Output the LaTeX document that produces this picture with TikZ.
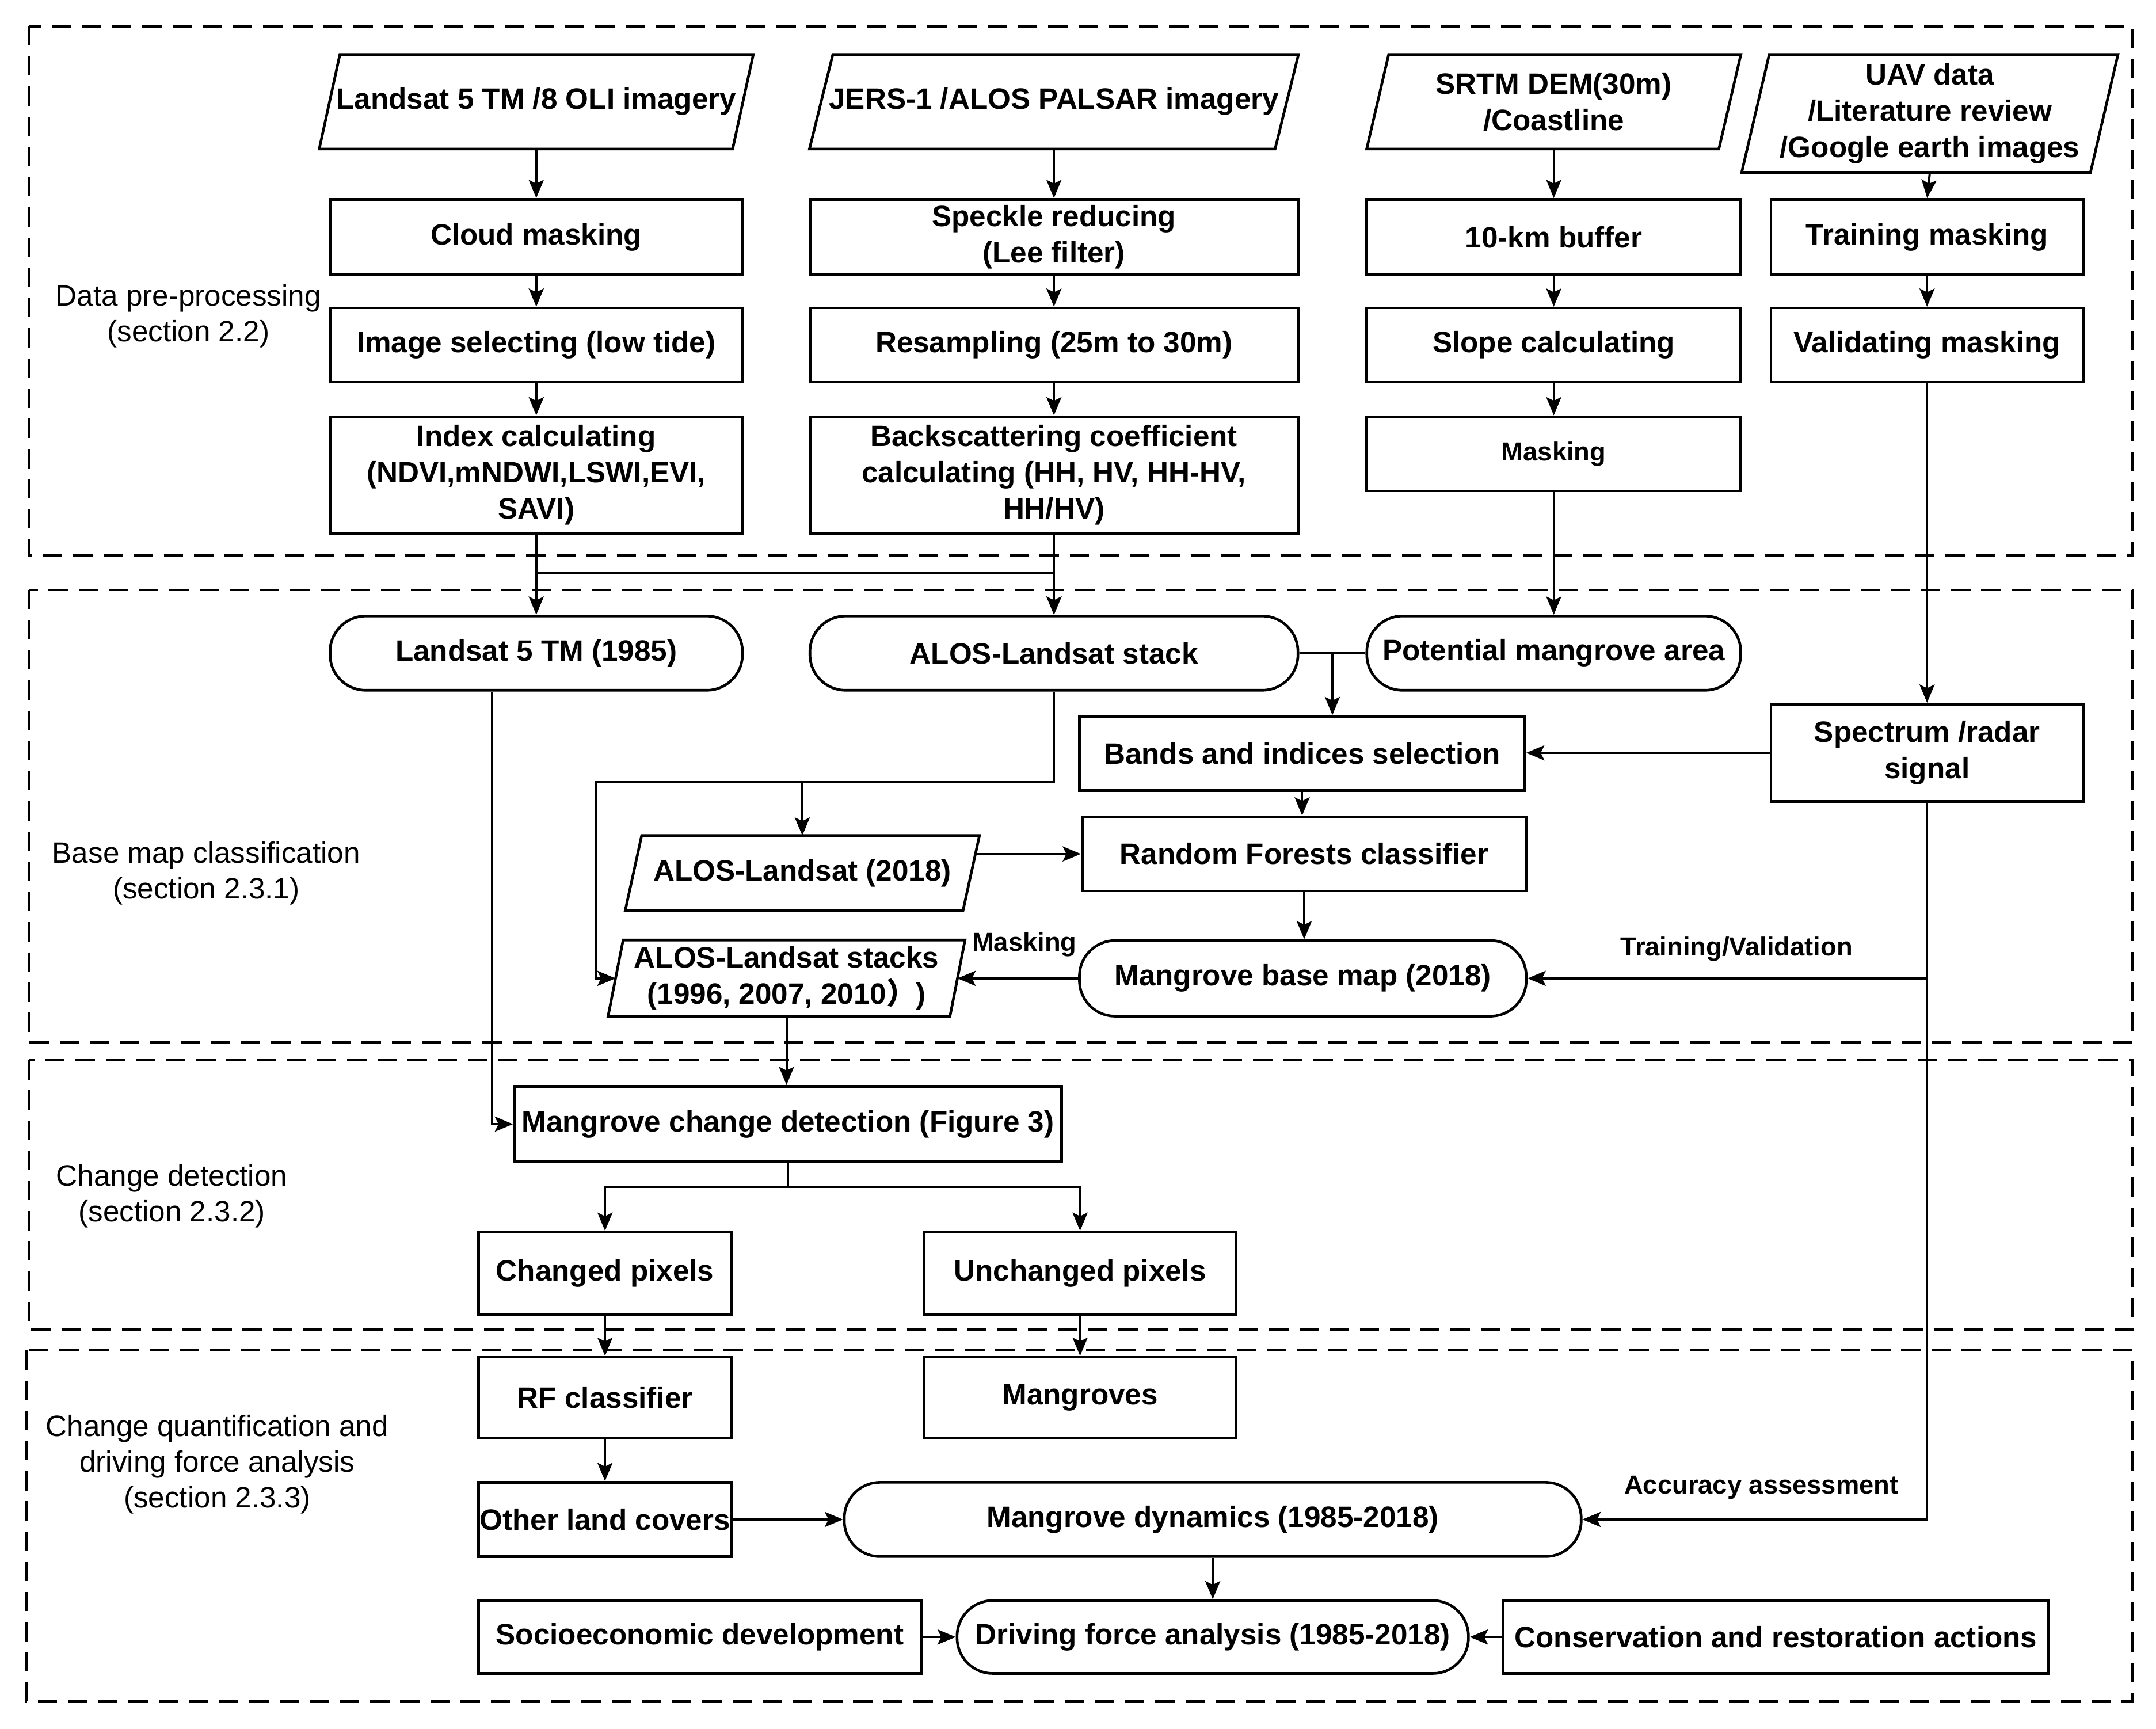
\documentclass[tikz,border=0pt]{standalone}
\usepackage{fontspec}
\setmainfont{Liberation Sans}
\newfontfamily\cjk{Noto Sans CJK SC}
\usetikzlibrary{arrows.meta,calc}
\newcommand\drawpara[2]{\draw[boxline] ([xshift=#2]#1.north west) -- ([xshift=#2]#1.north east) -- ([xshift=-#2]#1.south east) -- ([xshift=-#2]#1.south west) -- cycle;}
\begin{document}
\begin{tikzpicture}[x=0.02cm,y=-0.02cm,
  every node/.style={font=\fontsize{12.2}{15}\selectfont\bfseries, align=center, inner sep=0pt},
  boxline/.style={line width=1.1pt},
  rbox/.style={draw, boxline},
  stad/.style={draw, boxline, rounded corners=0.52cm},
  pnode/.style={draw=none},
  arr/.style={-{Stealth[length=7.5pt,width=6.2pt,inset=1.5pt]}, line width=0.95pt},
  plain/.style={line width=0.95pt},
  lab/.style={font=\fontsize{10.8}{13}\selectfont\bfseries},
  seclab/.style={font=\fontsize{12.2}{14.8}\selectfont},
  secbox/.style={line width=1.1pt, dash pattern=on 8pt off 4.5pt}
]
\fill[white] (0,0) rectangle (1568,1257);
\useasboundingbox (0,0) rectangle (1568,1257);

% section frames
\draw[secbox] (21,19) rectangle (1551,404);
\draw[secbox] (21,429) rectangle (1551,758);
\draw[secbox] (21,771) rectangle (1551,967);
\draw[secbox] (19,982) rectangle (1551,1237);

\node[seclab] (s1) at (137,230) {Data pre-processing\\(section 2.2)};
\node[seclab] (s2) at (150,635) {Base map classification\\(section 2.3.1)};
\node[seclab] (s3) at (125,870) {Change detection\\(section 2.3.2)};
\node[seclab] (s4) at (158,1065) {Change quantification and\\driving force analysis\\(section 2.3.3)};

% row 1 inputs
\node[pnode, minimum width=6cm, minimum height=1.36cm] (L1) at (390,74) {Landsat 5 TM /8 OLI imagery};
\node[pnode, minimum width=6.76cm, minimum height=1.36cm] (J1) at (766.5,74) {JERS-1 /ALOS PALSAR imagery};
\node[pnode, minimum width=5.11cm, minimum height=1.36cm] (S1) at (1130,74) {SRTM DEM(30m)\\/Coastline};
\node[pnode, minimum width=5.06cm, minimum height=1.7cm] (U1) at (1403.5,82.5) {UAV data\\/Literature review\\/Google earth images};
\drawpara{L1}{0.15cm}
\drawpara{J1}{0.17cm}
\drawpara{S1}{0.16cm}
\drawpara{U1}{0.2cm}

% row 2
\node[rbox, minimum width=6cm, minimum height=1.1cm] (cloud) at (390,172.5) {Cloud masking};
\node[rbox, minimum width=7.1cm, minimum height=1.1cm] (speck) at (766.5,172.5) {Speckle reducing\\(Lee filter)};
\node[rbox, minimum width=5.44cm, minimum height=1.1cm] (buf) at (1130,172.5) {10-km buffer};
\node[rbox, minimum width=4.54cm, minimum height=1.1cm] (train) at (1401.5,172.5) {Training masking};
% row 3
\node[rbox, minimum width=6cm, minimum height=1.08cm] (imgsel) at (390,251) {Image selecting (low tide)};
\node[rbox, minimum width=7.1cm, minimum height=1.08cm] (resamp) at (766.5,251) {Resampling (25m to 30m)};
\node[rbox, minimum width=5.44cm, minimum height=1.08cm] (slope) at (1130,251) {Slope calculating};
\node[rbox, minimum width=4.54cm, minimum height=1.08cm] (valid) at (1401.5,251) {Validating masking};
% row 4
\node[rbox, minimum width=6cm, minimum height=1.7cm] (index) at (390,345.5) {Index calculating\\(NDVI,mNDWI,LSWI,EVI,\\SAVI)};
\node[rbox, minimum width=7.1cm, minimum height=1.7cm] (backsc) at (766.5,345.5) {Backscattering coefficient\\calculating (HH, HV, HH-HV,\\HH/HV)};
\node[rbox, lab, minimum width=5.44cm, minimum height=1.08cm] (mask) at (1130,330) {Masking};

% section 2
\node[stad, minimum width=6cm, minimum height=1.08cm] (l5) at (390,475) {Landsat 5 TM (1985)};
\node[stad, minimum width=7.1cm, minimum height=1.08cm] (stack) at (766.5,475) {ALOS-Landsat stack};
\node[stad, minimum width=5.44cm, minimum height=1.08cm] (pot) at (1130,475) {Potential mangrove area};
\node[rbox, minimum width=6.48cm, minimum height=1.08cm] (bands) at (947,548) {Bands and indices selection};
\node[rbox, minimum width=4.54cm, minimum height=1.42cm] (spec) at (1401.5,547.5) {Spectrum /radar\\signal};
\node[rbox, minimum width=6.46cm, minimum height=1.08cm] (rf) at (948.5,621) {Random Forests classifier};
\node[pnode, minimum width=4.9cm, minimum height=1.08cm] (a18) at (583.5,635) {ALOS-Landsat (2018)};
\drawpara{a18}{0.12cm}
\node[pnode, minimum width=4.96cm, minimum height=1.1cm] (stacks) at (572,711.5) {ALOS-Landsat stacks\\(1996, 2007, 2010{\cjk ）})};
\drawpara{stacks}{0.11cm}
\node[stad, minimum width=6.5cm, minimum height=1.1cm] (base) at (947.5,711.5) {Mangrove base map (2018)};

% section 3
\node[rbox, minimum width=7.96cm, minimum height=1.1cm] (mcd) at (573,817.5) {Mangrove change detection (Figure 3)};
\node[rbox, minimum width=3.68cm, minimum height=1.2cm] (chg) at (440,926) {Changed pixels};
\node[rbox, minimum width=4.54cm, minimum height=1.2cm] (unchg) at (785.5,926) {Unchanged pixels};

% section 4
\node[rbox, minimum width=3.68cm, minimum height=1.18cm] (rfc) at (440,1016.5) {RF classifier};
\node[rbox, minimum width=4.54cm, minimum height=1.18cm] (mang) at (785.5,1016.5) {Mangroves};
\node[rbox, minimum width=3.68cm, minimum height=1.08cm] (other) at (440,1105) {Other land covers};
\node[stad, minimum width=10.72cm, minimum height=1.08cm] (md) at (882,1105) {Mangrove dynamics (1985-2018)};
\node[rbox, minimum width=6.44cm, minimum height=1.06cm] (socio) at (509,1190.5) {Socioeconomic development};
\node[stad, minimum width=7.44cm, minimum height=1.06cm] (df) at (882,1190.5) {Driving force analysis (1985-2018)};
\node[rbox, minimum width=7.94cm, minimum height=1.06cm] (cons) at (1291.5,1190.5) {Conservation and restoration actions};

% connectors section 1
\draw[arr] (L1.south) -- (cloud.north);
\draw[arr] (cloud.south) -- (imgsel.north);
\draw[arr] (imgsel.south) -- (index.north);
\draw[arr] (J1.south) -- (speck.north);
\draw[arr] (speck.south) -- (resamp.north);
\draw[arr] (resamp.south) -- (backsc.north);
\draw[arr] (S1.south) -- (buf.north);
\draw[arr] (buf.south) -- (slope.north);
\draw[arr] (slope.south) -- (mask.north);
\draw[arr] (U1.south) -- (train.north);
\draw[arr] (train.south) -- (valid.north);

% into section 2
\coordinate (jn) at ($(index.south)+(0,28)$);
\draw[arr] (index.south) -- (l5.north);
\draw[arr] (index.south) -- (jn) -| (stack.north);
\draw[arr] (backsc.south) -- (stack.north);
\draw[arr] (mask.south) -- (pot.north);
\draw[arr] (valid.south) -- (spec.north);

\draw[plain] (stack.east) -- (pot.west);
\coordinate (mid) at ($(stack.east)!0.5!(pot.west)$);
\draw[arr] (mid) -- (mid |- bands.north);
\draw[arr] (spec.west) -- (spec.west -| bands.east);
\draw[arr] (bands.south) -- (bands.south |- rf.north);
\draw[arr] (rf.south) -- (rf.south |- base.north);
\draw[arr] ($(a18.east)+(3,-14)$) -- (rf.west);

\coordinate (sj) at ($(stack.south)+(0,66)$);
\coordinate (sl) at ($(stacks.west)+(-14,0)$);
\draw[arr] (stack.south) -- (sj) -| (sl) -- (stacks.west);
\draw[arr] (a18.north |- sj) -- (a18.north);

\draw[arr] (base.west) -- (stacks.east);
\node[lab] (lmask) at (745,687) {Masking};
\draw[arr] (spec.south) |- (base.east);
\node[lab] (ltv) at (1263,690) {Training/Validation};
\draw[arr] (spec.south) |- (md.east);
\node[lab] (lacc) at (1281,1082) {Accuracy assessment};

% section 3
\draw[arr] ($(l5.south)+(-32,0)$) |- (mcd.west);
\draw[arr] (stacks.south) -- (stacks.south |- mcd.north);
\coordinate (mj) at ($(mcd.south)+(0,17)$);
\draw[arr] (mcd.south) -- (mj) -| (chg.north);
\draw[arr] (mj) -| (unchg.north);

% section 4
\draw[arr] (chg.south) -- (rfc.north);
\draw[arr] (unchg.south) -- (mang.north);
\draw[arr] (rfc.south) -- (other.north);
\draw[arr] (other.east) -- (md.west);
\draw[arr] (md.south) -- (df.north);
\draw[arr] (socio.east) -- (df.west);
\draw[arr] (cons.west) -- (df.east);
\end{tikzpicture}
\end{document}
